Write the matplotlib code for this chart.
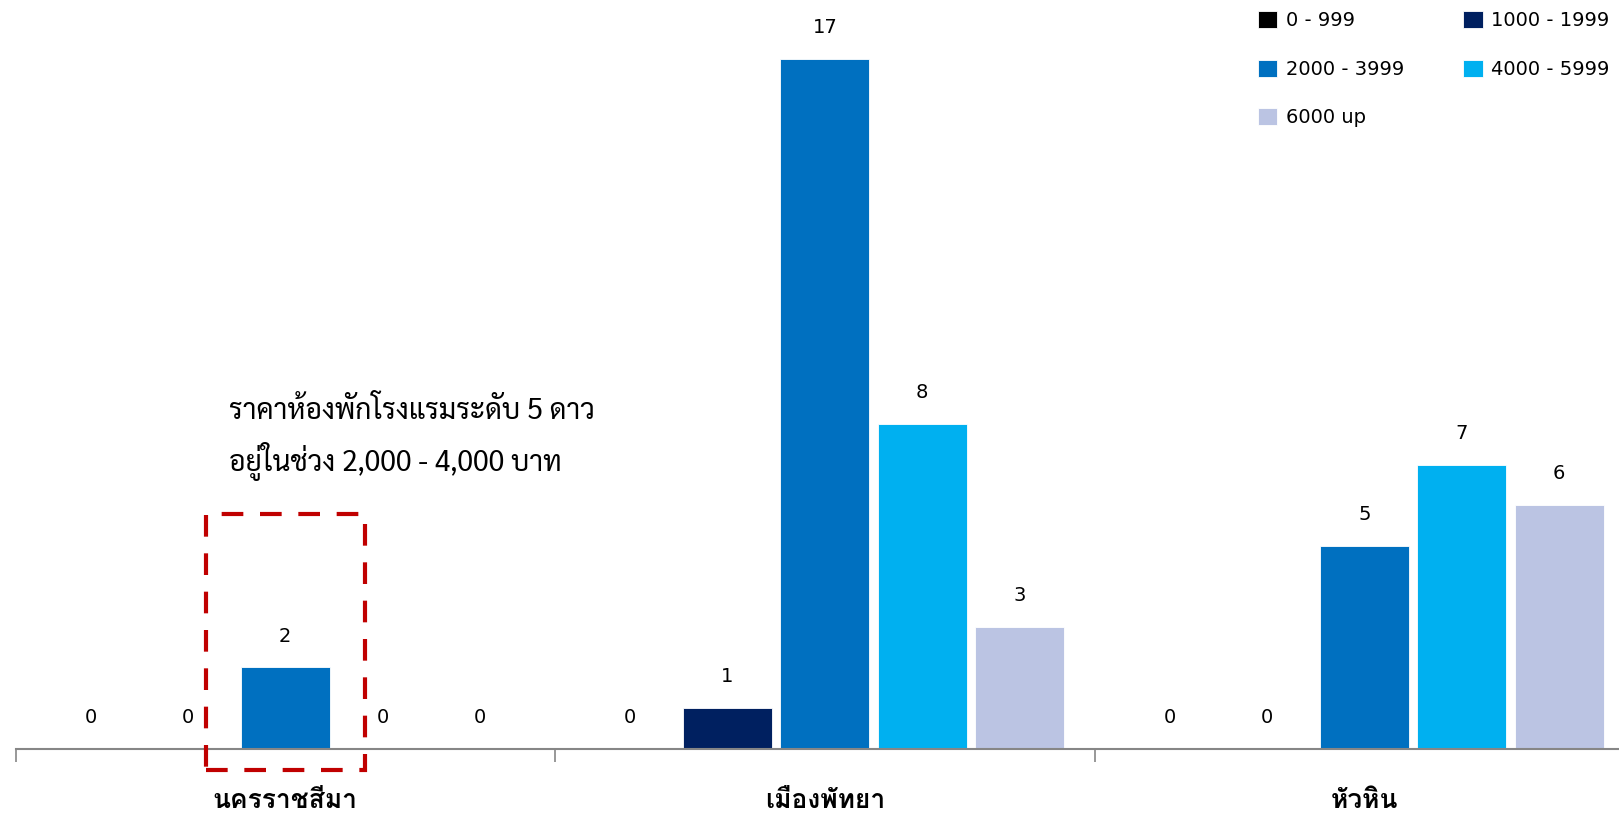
import numpy as np
import matplotlib
matplotlib.use('Agg')
import matplotlib.pyplot as plt
from matplotlib.patches import Rectangle

plt.rcParams['font.family'] = ['Loma', 'DejaVu Sans']

# data
provinces = ['นครราชสีมา', 'เมืองพัทยา', 'หัวหิน']
price_ranges = ['0 - 999', '1000 - 1999', '2000 - 3999', '4000 - 5999', '6000 up']
hotels_0_999 = [0, 0, 0]
hotels_1000_1999 = [0, 1, 0]
hotels_2000_3999 = [2, 17, 5]
hotels_4000_5999 = [0, 8, 7]
hotels_6000_up = [0, 3, 6]
series = [hotels_0_999, hotels_1000_1999, hotels_2000_3999, hotels_4000_5999, hotels_6000_up]
colors = ['#000000', '#002060', '#0070C0', '#00B0F0', '#BBC4E3']

num_font = dict(family='DejaVu Sans')

W, H = 1619, 814
fig = plt.figure(figsize=(W / 100, H / 100), dpi=100)
base_y = 748.5
ax = fig.add_axes([15.5 / W, (H - base_y) / H, 1 - 15.5 / W, base_y / H])

x = np.arange(len(provinces))
slot = 0.1805
bw = 0.1646
bars = []
for i, vals in enumerate(series):
    b = ax.bar(x + (i - 2) * slot, vals, bw, color=colors[i], label=price_ranges[i],
               edgecolor='white', linewidth=0.6)
    bars.append(b)
    for rect, v in zip(b, vals):
        ax.annotate(str(v), (rect.get_x() + rect.get_width() / 2, v),
                    xytext=(0, 22.5), textcoords='offset points',
                    ha='center', va='center', fontsize=14, **num_font)

ax.set_yticks([])
for s in ['top', 'right', 'left']:
    ax.spines[s].set_visible(False)
ax.spines['bottom'].set_color('#868686')
ax.spines['bottom'].set_linewidth(1.5)
ax.set_xticks(x)
ax.set_xticklabels(provinces, fontsize=19, fontweight='bold')
ax.tick_params(axis='x', which='major', length=0, pad=29.5)
ax.set_xticks([-0.5, 0.5, 1.5, 2.5], minor=True)
ax.tick_params(axis='x', which='minor', length=9, width=1.2, color='#868686', direction='out')
# limits after the ticks, otherwise set_xticks widens them
ax.set_xlim(-0.5, 2.472)
ax.set_ylim(0, 18.45)

# highlight box around the Nakhon Ratchasima bar
ax.add_patch(Rectangle((-0.147, -0.53), 0.294, 6.31, fill=False, edgecolor='#C00000',
                       linewidth=3, linestyle=(0, (5.2, 4)), clip_on=False, zorder=5))
note_font = ['Sarabun', 'DejaVu Sans']
fig.text(229 / W, 1 - 411 / H, 'ราคาห้องพักโรงแรมระดับ 5 ดาว', fontsize=20.4, va='center', ha='left',
         family=note_font)
fig.text(229 / W, 1 - 461 / H, 'อยู่ในช่วง 2,000 - 4,000 บาท', fontsize=20.4, va='center', ha='left',
         family=note_font)

# legend filled row by row
handles = [bars[0], bars[2], bars[4], bars[1], bars[3]]
labels = [price_ranges[0], price_ranges[2], price_ranges[4], price_ranges[1], price_ranges[3]]
fig.legend(handles, labels, ncol=2, loc='upper left', bbox_to_anchor=(1258 / W, 1 - 11 / H),
           frameon=False, prop=dict(size=14, **num_font), handlelength=1.0, handleheight=1.0,
           handletextpad=0.43, columnspacing=3.05, labelspacing=1.5, borderaxespad=0, borderpad=0)

fig.savefig('out.png', dpi=100)
